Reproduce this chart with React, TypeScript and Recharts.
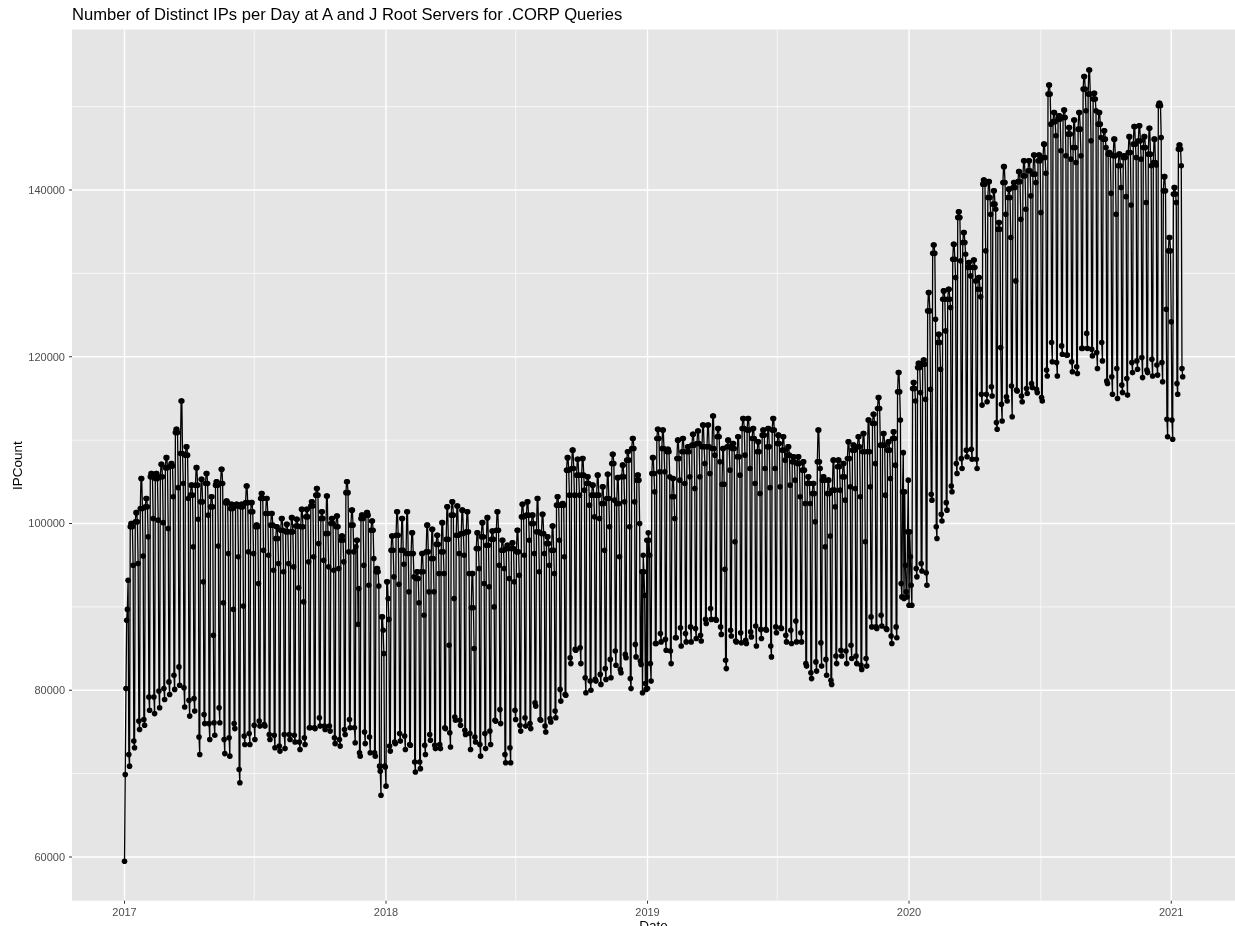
import React from 'react';
import { LineChart, Line, XAxis, YAxis, CartesianGrid } from 'recharts';

const FONT = '"Liberation Sans", Arial, sans-serif';

// days since 2017-01-01
const yearTicks = [0, 365, 730, 1095, 1461];
const yearLabels = ['2017', '2018', '2019', '2020', '2021'];
const halfYearTicks = [181, 546, 911, 1279];
const countTicks = [60000, 80000, 100000, 120000, 140000];
const countMinorTicks = [70000, 90000, 110000, 130000, 150000];

// the first week, day by day (2017-01-01 is a Sunday)
const firstDays = [59500, 69900, 80200, 88400, 89700, 93200, 72300, 70900];

// then one entry per week, starting Monday 2017-01-09
const weekPeak = [
  100000, 101300, 105400, 103000, 106000, 106000, 107100, 107900, 107200, 111300,
  114700, 109200, 104600, 106700, 105300, 106000, 103200, 105000, 106500, 102700,
  102300, 102300, 102300, 104500, 102500, 99800, 103600, 103000, 101200, 99600,
  100600, 99900, 100700, 100500, 101700, 101700, 102600, 104200, 101400, 103300,
  100600, 100900, 98500, 105000, 101600, 98000, 101000, 101300, 100300, 94600,
  88800, 93000, 98500, 101400, 100600, 101400, 98900, 94200, 96400, 99800,
  99300, 98600, 100100, 102000, 102600, 102100, 101600, 101400, 94000, 98900,
  100100, 100700, 99100, 101400, 98000, 97400, 97700, 99200, 102300, 102600,
  101000, 103000, 101100, 98400, 99700, 103200, 102400, 107900, 108800, 107700,
  107800, 105600, 104600, 105800, 104400, 105900, 108300, 105500, 107000, 108600,
  110200, 105800, 96200, 98900, 107900, 111300, 111200, 108900, 105400, 110000,
  110200, 109200, 110700, 111100, 111800, 111800, 112900, 111400, 109000, 110000,
  109600, 110400, 112600, 112600, 111400, 109800, 111200, 111400, 112600, 110600,
  110400, 109200, 108000, 108000, 107400, 105600, 104800, 111200, 105600, 105200,
  107600, 107600, 107200, 109800, 109400, 110400, 110800, 112400, 113100, 115100,
  110800, 109800, 111000, 118100, 108500, 105200, 116900, 119200, 119600, 127700,
  133400, 122700, 127900, 128100, 133500, 137400, 134900, 131300, 131600, 129500,
  141200, 141000, 139900, 136100, 142800, 140100, 140900, 142200, 143500, 143500,
  144200, 144200, 145500, 152600, 149300, 148900, 149600, 147500, 148400, 149300,
  153600, 154400, 151600, 149300, 147100, 144500, 146100, 144300, 144100, 146400,
  147600, 147700, 146400, 147400, 146100, 150400, 141600, 134300, 140300, 145400,
];
const weekUpper = [
  99600, 100200, 101800, 102000, 105600, 105400, 105600, 106700, 106900, 110900,
  108400, 108200, 103400, 104600, 102600, 104800, 102000, 104600, 104800, 102500,
  101800, 102100, 102000, 102500, 101400, 99600, 103000, 101200, 99800, 98200,
  99200, 99000, 99000, 99700, 99600, 100800, 102100, 103400, 100600, 98800,
  100000, 99600, 98000, 103700, 99800, 97200, 100600, 101000, 99200, 94200,
  87200, 91000, 96800, 98600, 96800, 96400, 96400, 93400, 94200, 96600,
  95800, 97500, 96600, 98100, 101000, 98600, 98800, 99000, 89900, 97000,
  98400, 97400, 98100, 99200, 96800, 97000, 97000, 96600, 100800, 101000,
  100000, 99000, 98800, 97600, 96800, 102200, 102200, 106400, 106600, 105800,
  105800, 104800, 103400, 103400, 102400, 103000, 107200, 102400, 105600, 107600,
  109000, 105200, 94200, 98000, 106000, 110200, 109000, 108600, 103200, 107800,
  108600, 108600, 109400, 109600, 109200, 109200, 109000, 110400, 104700, 109200,
  109000, 108000, 111400, 111200, 110200, 108600, 110600, 109200, 111200, 109600,
  108800, 108200, 107400, 107200, 106400, 104800, 103600, 107400, 105200, 103600,
  104000, 106800, 105600, 107800, 108800, 109200, 108600, 108600, 112000, 113800,
  109400, 108800, 110200, 115800, 103800, 99000, 116200, 118700, 119100, 125500,
  132400, 121700, 126900, 126900, 131700, 136700, 133700, 130700, 130700, 128100,
  140700, 139100, 138300, 135300, 140900, 139100, 140300, 141000, 141700, 142300,
  141900, 143500, 143900, 151500, 148200, 148500, 148700, 146700, 145100, 147300,
  152100, 151500, 150900, 147900, 146100, 144300, 144100, 142900, 143900, 144500,
  145500, 145900, 145100, 144300, 143300, 150100, 139900, 132700, 139500, 144900,
];
const weekFri = [
  95000, 95200, 96100, 98400, 100600, 100400, 100100, 99400, 103200, 104300,
  104800, 103000, 97200, 100500, 93000, 101000, 86600, 97300, 90500, 96400,
  89700, 96000, 90100, 96600, 96400, 92800, 96800, 96200, 94400, 95200,
  94200, 95200, 94800, 92300, 90600, 95400, 96000, 97600, 95600, 94800,
  94400, 94600, 95400, 96600, 96600, 92200, 95000, 92600, 95800, 92500,
  84400, 88500, 93600, 92700, 95100, 91800, 93600, 90500, 89000, 91800,
  91800, 94000, 94000, 85400, 91000, 96400, 96200, 94000, 85000, 94600,
  92800, 92400, 90000, 95000, 94600, 93400, 93000, 93800, 96200, 98000,
  96400, 94200, 96400, 95000, 94000, 98000, 96000, 103400, 103400, 103400,
  104000, 102200, 100800, 100600, 96800, 99600, 102800, 96000, 102600, 99600,
  102600, 100000, 91400, 96200, 103800, 106200, 106200, 105600, 100600, 105200,
  104800, 105600, 104200, 105600, 107200, 106000, 108200, 107400, 94500, 106400,
  97800, 105800, 108200, 106600, 104800, 103600, 106600, 104300, 106600, 104400,
  107600, 104600, 105200, 103200, 102400, 102400, 100200, 106600, 97200, 98500,
  102000, 104000, 102800, 104400, 104200, 103200, 97800, 104400, 107200, 109400,
  103400, 105400, 107000, 112400, 95000, 96000, 114700, 115700, 114900, 116100,
  124500, 118500, 123100, 125900, 129500, 131500, 132300, 129700, 129100, 127200,
  132700, 137100, 137700, 121100, 137100, 134300, 129100, 136500, 137700, 139300,
  140900, 137300, 142000, 147900, 146500, 144700, 144100, 143700, 143300, 144100,
  149500, 145900, 149500, 146300, 145100, 139600, 137100, 140300, 139200, 138200,
  143900, 143700, 138500, 142900, 143000, 146300, 125700, 124200, 138500, 142900,
];
const weekSat = [
  73900, 76300, 76500, 79200, 79200, 79900, 80200, 81000, 81800, 82800,
  80300, 78800, 79000, 74400, 77100, 76000, 76100, 77900, 74100, 74300,
  76000, 70500, 74500, 74800, 75800, 76300, 75900, 74700, 74600, 73300,
  74700, 74700, 74600, 73800, 74300, 75500, 75500, 76700, 75700, 75700,
  74300, 74100, 75300, 76500, 75500, 72500, 75000, 74400, 72500, 70900,
  70900, 73300, 73800, 74800, 74500, 73500, 71400, 71400, 73400, 74700,
  73400, 73500, 75500, 74900, 76800, 76400, 75200, 74800, 74400, 73500,
  74800, 75100, 76400, 77700, 72300, 73100, 77600, 75800, 76700, 76000,
  78500, 76500, 75700, 76600, 77500, 80100, 79500, 83900, 84900, 85100,
  81500, 81100, 81300, 81900, 82600, 83700, 84700, 82500, 84300, 81400,
  85500, 83500, 80800, 83200, 85600, 86800, 86100, 84700, 86300, 87500,
  86800, 87600, 87400, 86600, 88500, 89800, 88500, 87600, 83600, 87200,
  85900, 86900, 86000, 87000, 87700, 87300, 87300, 85300, 87600, 87500,
  86600, 87200, 88300, 86900, 83200, 82100, 83400, 85700, 83700, 81200,
  84100, 84800, 84700, 85400, 84100, 83000, 83800, 88800, 87600, 89000,
  87400, 86500, 87600, 92800, 91800, 92600, 94600, 95200, 94100, 103500,
  99600, 101100, 102500, 104500, 107200, 107800, 108800, 108900, 107700, 115500,
  115500, 116400, 112100, 114300, 115200, 116500, 116000, 115300, 116200, 116800,
  116100, 115100, 118400, 121700, 119300, 121300, 120200, 119400, 118800, 121000,
  122800, 120900, 120500, 121700, 117100, 117600, 118600, 116600, 117400, 119300,
  119500, 119900, 118400, 119700, 119000, 119300, 112500, 112400, 116800, 118600,
];
const weekSun = [
  73100, 75300, 75800, 77600, 77200, 77900, 78900, 79500, 80100, 80600,
  78000, 76900, 77500, 72300, 76000, 74100, 74600, 76100, 72400, 72100,
  75400, 68900, 73500, 73500, 74100, 75700, 75700, 74100, 73100, 72700,
  73000, 74100, 73800, 72900, 73500, 75500, 75400, 75700, 75300, 75100,
  73600, 73300, 74700, 75500, 73700, 72100, 73600, 72500, 72100, 70300,
  70800, 72700, 73600, 73900, 72900, 73400, 70200, 70600, 72300, 74000,
  73000, 73000, 75400, 73200, 76400, 75800, 74700, 72900, 73800, 72100,
  73000, 73500, 76300, 76000, 71300, 71300, 76500, 75100, 75700, 75400,
  78100, 76400, 75000, 76200, 76700, 78700, 79400, 83200, 84800, 83200,
  79700, 80000, 81100, 80700, 81300, 81500, 83000, 82100, 83900, 80200,
  84000, 83100, 80100, 81100, 85600, 85800, 84800, 83200, 86300, 85300,
  85800, 85800, 86200, 85900, 88000, 88500, 88400, 86700, 82600, 86500,
  85800, 85700, 85600, 86400, 85300, 86200, 87200, 84000, 86900, 87400,
  85800, 85600, 85800, 85800, 82900, 81400, 82300, 82900, 81800, 80700,
  83200, 84100, 83200, 83800, 83200, 82500, 82900, 87600, 87400, 87700,
  87300, 85600, 86300, 91200, 91200, 90200, 93600, 94300, 92600, 102800,
  98200, 100300, 101600, 103800, 106000, 106600, 108000, 107700, 106600, 114200,
  114600, 115300, 111300, 112300, 114700, 112800, 115900, 114600, 115600, 116300,
  115700, 114700, 117700, 119400, 117700, 120300, 120200, 118200, 118000, 121000,
  121000, 120100, 118600, 119500, 116800, 115500, 115000, 115700, 115400, 118100,
  118500, 117500, 118100, 117700, 117800, 117000, 110400, 110100, 115500, 117600,
];

// holidays that fell on a weekday
const dipDays = [326, 358, 365, 723, 730, 1088, 1095];
const dipValues = [87900, 67400, 68500, 79700, 80200, 91000, 90200];

const data: { day: number; count: number }[] = firstDays.map((count, day) => ({ day, count }));
weekPeak.forEach((peak, w) => {
  const week = [weekUpper[w], peak, peak, weekUpper[w], weekFri[w], weekSat[w], weekSun[w]];
  week.forEach((count, d) => {
    const day = 8 + 7 * w + d;
    const dip = dipDays.indexOf(day);
    data.push({ day, count: dip >= 0 ? dipValues[dip] : count });
  });
});

const tickStyle = { fontSize: 11, fill: '#4d4d4d', fontFamily: FONT };

const App = () => {
  return (
    <div style={{ position: 'absolute', left: 0, top: 0, width: 1235, height: 926, overflow: 'hidden', background: '#fff', filter: 'blur(0.45px)' }}>
      <div style={{ position: 'absolute', left: 72, top: 5, fontFamily: FONT, fontSize: 16.6, color: '#000', whiteSpace: 'nowrap' }}>
        Number of Distinct IPs per Day at A and J Root Servers for .CORP Queries
      </div>
      <LineChart width={1235} height={926} data={data} margin={{ top: 29.5, right: 0, bottom: 0, left: 12 }}>
        <CartesianGrid fill="#e5e5e5" stroke="#fff" strokeWidth={0.7} horizontalValues={countMinorTicks} verticalValues={halfYearTicks} />
        <CartesianGrid stroke="#fff" strokeWidth={1.4} horizontalValues={countTicks} verticalValues={yearTicks} />
        <XAxis
          dataKey="day"
          type="number"
          domain={[-73.3, 1550]}
          ticks={yearTicks}
          tickFormatter={(v) => yearLabels[yearTicks.indexOf(v)]}
          height={25.3}
          axisLine={false}
          tickLine={{ stroke: '#333' }}
          tickSize={3}
          tickMargin={4}
          tick={tickStyle}
          label={{ value: 'Date', position: 'insideBottom', offset: -4, fontSize: 13.5, fill: '#000', fontFamily: FONT }}
        />
        <YAxis
          type="number"
          domain={[54760, 159250]}
          ticks={countTicks}
          width={60}
          axisLine={false}
          tickLine={{ stroke: '#333' }}
          tickSize={3}
          tickMargin={4}
          tick={tickStyle}
          label={{ value: 'IPCount', angle: -90, position: 'insideLeft', offset: 0, dx: 5, dy: 25, fontSize: 13.5, fill: '#000', fontFamily: FONT }}
        />
        <Line
          dataKey="count"
          type="linear"
          stroke="#000"
          strokeWidth={1.3}
          dot={{ r: 2.8, fill: '#000', stroke: 'none' }}
          isAnimationActive={false}
        />
      </LineChart>
    </div>
  );
};

export default App;
